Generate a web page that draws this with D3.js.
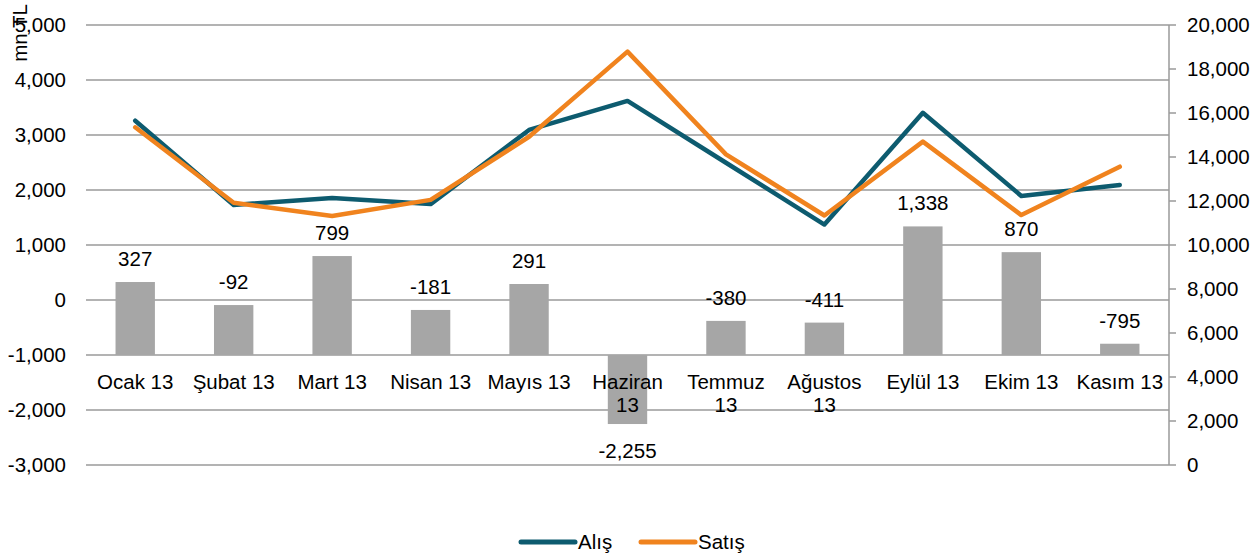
<!DOCTYPE html>
<html>
<head>
<meta charset="utf-8">
<script src="https://cdn.jsdelivr.net/npm/d3@7"></script>
<style>
  body { margin: 0; background: #fff; }
  svg text { font-family: Arial, "Liberation Sans", sans-serif; fill: #000; }
</style>
</head>
<body>
<div class="canvas"></div>
<script>
// data
const months = ['Ocak 13', 'Şubat 13', 'Mart 13', 'Nisan 13', 'Mayıs 13', 'Haziran 13',
  'Temmuz 13', 'Ağustos 13', 'Eylül 13', 'Ekim 13', 'Kasım 13'];
const alis = [15650, 11820, 12140, 11860, 15230, 16550, 13740, 10930, 16010, 12230, 12730];
const satis = [15350, 11920, 11320, 12050, 14920, 18790, 14120, 11340, 14700, 11360, 13560];
const net = [327, -92, 799, -181, 291, -2255, -380, -411, 1338, 870, -795];
const leftTicks = [-3000, -2000, -1000, 0, 1000, 2000, 3000, 4000, 5000];
const rightTicks = [0, 2000, 4000, 6000, 8000, 10000, 12000, 14000, 16000, 18000, 20000];

const W = 1258, H = 559;
const plot = { left: 86, right: 1169, top: 25, bottom: 465 };
// plain hyphen for negatives, like the original
const fmt = d => d3.format(',')(d).replace('\u2212', '-');

const svg = d3.select('.canvas')
  .append('svg')
  .attr('width', W)
  .attr('height', H);

const x = d3.scaleBand()
  .domain(months)
  .range([plot.left, plot.right])
  .paddingInner(0.6)
  .paddingOuter(0.3);

const yL = d3.scaleLinear().domain([-3000, 5000]).range([plot.bottom, plot.top]);
const yR = d3.scaleLinear().domain([0, 20000]).range([plot.bottom, plot.top]);
const cx = d => x(d) + x.bandwidth() / 2;

// gridlines
svg.append('g')
  .selectAll('line')
  .data(leftTicks)
  .enter().append('line')
    .attr('x1', plot.left)
    .attr('x2', plot.right)
    .attr('y1', d => yL(d))
    .attr('y2', d => yL(d))
    .attr('stroke', '#9a9a9a')
    .attr('stroke-width', 1.5);

// left axis labels
svg.append('g')
  .selectAll('text')
  .data(leftTicks)
  .enter().append('text')
    .attr('x', 66)
    .attr('y', d => yL(d))
    .attr('dy', '0.36em')
    .attr('text-anchor', 'end')
    .style('font-size', '20.5px')
    .text(d => fmt(d));

// right axis
const rAxis = svg.append('g');
rAxis.append('line')
  .attr('x1', plot.right).attr('x2', plot.right)
  .attr('y1', plot.top).attr('y2', plot.bottom)
  .attr('stroke', '#9a9a9a')
  .attr('stroke-width', 1.5);
rAxis.selectAll('.tick')
  .data(rightTicks)
  .enter().append('line')
    .attr('x1', plot.right).attr('x2', plot.right + 7)
    .attr('y1', d => yR(d)).attr('y2', d => yR(d))
    .attr('stroke', '#9a9a9a')
    .attr('stroke-width', 1.5);
rAxis.selectAll('text')
  .data(rightTicks)
  .enter().append('text')
    .attr('x', 1187)
    .attr('y', d => yR(d))
    .attr('dy', '0.36em')
    .style('font-size', '20.5px')
    .text(d => fmt(d));

// axis title
svg.append('text')
  .attr('transform', 'translate(27, 33) rotate(-90)')
  .attr('text-anchor', 'middle')
  .style('font-size', '20.5px')
  .text('mn TL');

// bars from the -1000 base line
const base = -1000;
svg.append('g')
  .selectAll('rect')
  .data(net)
  .enter().append('rect')
    .attr('x', (d, i) => x(months[i]))
    .attr('width', x.bandwidth())
    .attr('y', d => yL(Math.max(d, base)))
    .attr('height', d => Math.abs(yL(d) - yL(base)))
    .attr('fill', '#a6a6a6');

svg.append('g')
  .selectAll('text')
  .data(net)
  .enter().append('text')
    .attr('x', (d, i) => cx(months[i]))
    .attr('y', d => d >= base ? yL(d) - 16 : yL(d) + 34)
    .attr('text-anchor', 'middle')
    .style('font-size', '20.5px')
    .text(d => fmt(d));

// category labels
const catLabels = svg.append('g')
  .selectAll('text')
  .data(months)
  .enter().append('text')
    .attr('x', d => cx(d))
    .attr('y', 389)
    .attr('text-anchor', 'middle')
    .style('font-size', '20.5px')
    .text(d => d);

catLabels.each(function(d) {
  const t = d3.select(this);
  if (this.getComputedTextLength() > x.step() - 4) {
    const parts = d.split(' ');
    t.text(null);
    t.append('tspan').attr('x', cx(d)).text(parts[0]);
    t.append('tspan').attr('x', cx(d)).attr('dy', 23).text(parts[1]);
  }
});

// lines
const series = [
  { name: 'Alış', values: alis, color: '#0d5b6f' },
  { name: 'Satış', values: satis, color: '#f0831e' }
];

const line = d3.line()
  .x((d, i) => cx(months[i]))
  .y(d => yR(d));

svg.append('g')
  .selectAll('path')
  .data(series)
  .enter().append('path')
    .attr('fill', 'none')
    .attr('stroke', d => d.color)
    .attr('stroke-width', 4.5)
    .attr('stroke-linejoin', 'round')
    .attr('stroke-linecap', 'round')
    .attr('d', d => line(d.values));

// legend
const legend = svg.append('g')
  .selectAll('g')
  .data(series)
  .enter().append('g')
    .attr('transform', (d, i) => `translate(${521 + i * 120}, 542)`);

legend.append('line')
  .attr('x1', 0).attr('x2', 54)
  .attr('stroke', d => d.color)
  .attr('stroke-width', 5)
  .attr('stroke-linecap', 'round');

legend.append('text')
  .attr('x', 57)
  .attr('dy', '0.36em')
  .style('font-size', '20.5px')
  .text(d => d.name);
</script>
</body>
</html>
